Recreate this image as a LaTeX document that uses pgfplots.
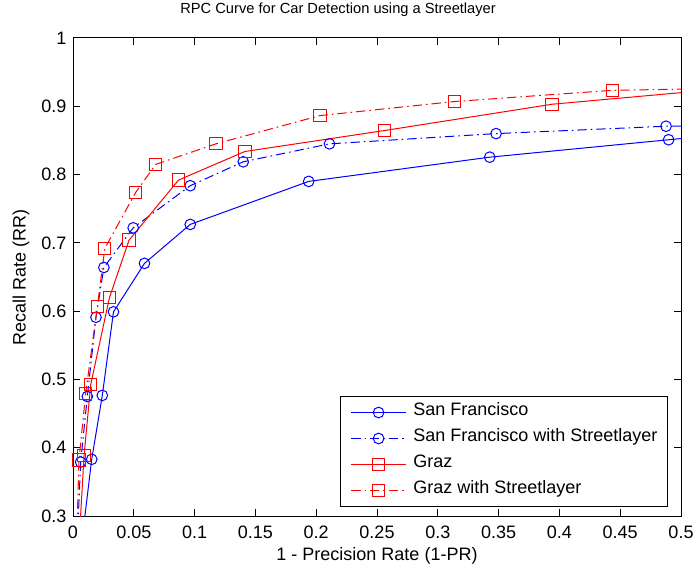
\documentclass[border=0pt]{standalone}
\usepackage{fontspec}
\setmainfont{Liberation Sans}
\usepackage{pgfplots}
\pgfplotsset{compat=1.18}
\definecolor{mblue}{RGB}{0,0,255}
\definecolor{mred}{RGB}{255,0,0}
\tikzset{mdashdot/.style={dash pattern=on 7pt off 3pt on 1.2pt off 3pt}}
\begin{document}
\begin{tikzpicture}
\begin{axis}[
    scale only axis,
    width=456pt, height=358.5pt,
    xmin=0, xmax=0.5, ymin=0.3, ymax=1,
    xtick={0,0.05,...,0.5}, ytick={0.3,0.4,...,1.0},
    xticklabels={0,0.05,0.1,0.15,0.2,0.25,0.3,0.35,0.4,0.45,0.5},
    yticklabels={0.3,0.4,0.5,0.6,0.7,0.8,0.9,1},
    tick align=inside, major tick length=5pt,
    tick style={black, line width=0.75pt},
    axis line style={black, line width=0.75pt},
    /pgf/number format/assume math mode=true,
    font=\fontsize{13.5}{16}\selectfont,
    xticklabel style={anchor=base, inner sep=0pt, yshift=-16.7pt},
    yticklabel style={anchor=east, inner sep=0pt, xshift=-4.7pt},
    title={RPC Curve for Car Detection using a Streetlayer},
    title style={at={(axis description cs:0.436,1)}, anchor=base,
        yshift=12.2pt, font=\fontsize{11}{13}\selectfont},
    xlabel={1 - Precision Rate (1-PR)},
    xlabel style={at={(axis description cs:0.5,0)}, anchor=base, yshift=-33pt},
    ylabel={Recall Rate (RR)},
    ylabel style={at={(axis description cs:-0.0855,0.5)}, anchor=center},
    legend style={at={(0.9786,0.0188)}, anchor=south east, draw=black,
        line width=0.75pt, font=\fontsize{13.5}{16}\selectfont,
        inner xsep=7.5pt, inner ysep=7pt, column sep=5.25pt, row sep=9.5pt,
        nodes={inner sep=0pt, text height=0.75em, text depth=0.25em}},
    legend cell align=left,
    legend image code/.code={
        \draw[#1, mark=none] (0pt,0pt) -- (41pt,0pt);
        \draw[#1, only marks] plot coordinates {(20.5pt,0pt)};
    },
    every axis plot/.append style={line width=0.75pt},
]
\addplot[mblue, mark=o, mark size=4pt, mark options={solid}] coordinates {
    (0.003,0.20) (0.0154,0.383) (0.0241,0.4766) (0.0333,0.599)
    (0.0588,0.670) (0.0964,0.727) (0.1938,0.790) (0.3427,0.8255)
    (0.4898,0.851) (0.60,0.870)
};
\addlegendentry{San Francisco}
\addplot[mblue, mdashdot, mark=o, mark size=4pt, mark options={solid}] coordinates {
    (0.002,0.20) (0.0063,0.379) (0.0118,0.475) (0.0189,0.591)
    (0.0254,0.664) (0.0495,0.722) (0.0964,0.7837) (0.1400,0.8187)
    (0.2109,0.845) (0.3479,0.860) (0.4877,0.8708) (0.60,0.873)
};
\addlegendentry{San Francisco with Streetlayer}
\addplot[mred, mark=square, mark size=4.6pt, mark options={solid}] coordinates {
    (0.003,0.20) (0.0091,0.389) (0.0146,0.4927) (0.0300,0.620)
    (0.0461,0.704) (0.0868,0.792) (0.1414,0.8338) (0.2562,0.8645)
    (0.3940,0.903) (0.60,0.936)
};
\addlegendentry{Graz}
\addplot[mred, mdashdot, mark=square, mark size=4.6pt, mark options={solid}] coordinates {
    (0.002,0.20) (0.0049,0.382) (0.0104,0.479) (0.0200,0.6066)
    (0.0262,0.692) (0.0516,0.774) (0.0681,0.815) (0.1175,0.845)
    (0.2032,0.8864) (0.3138,0.907) (0.4437,0.9234) (0.60,0.928)
};
\addlegendentry{Graz with Streetlayer}
\end{axis}
\pgfresetboundingbox
\path[use as bounding box] ([xshift=-54.75pt,yshift=-37.5pt]current axis.south west)
    rectangle ([xshift=9pt,yshift=28.5pt]current axis.north east);
\end{tikzpicture}
\end{document}
